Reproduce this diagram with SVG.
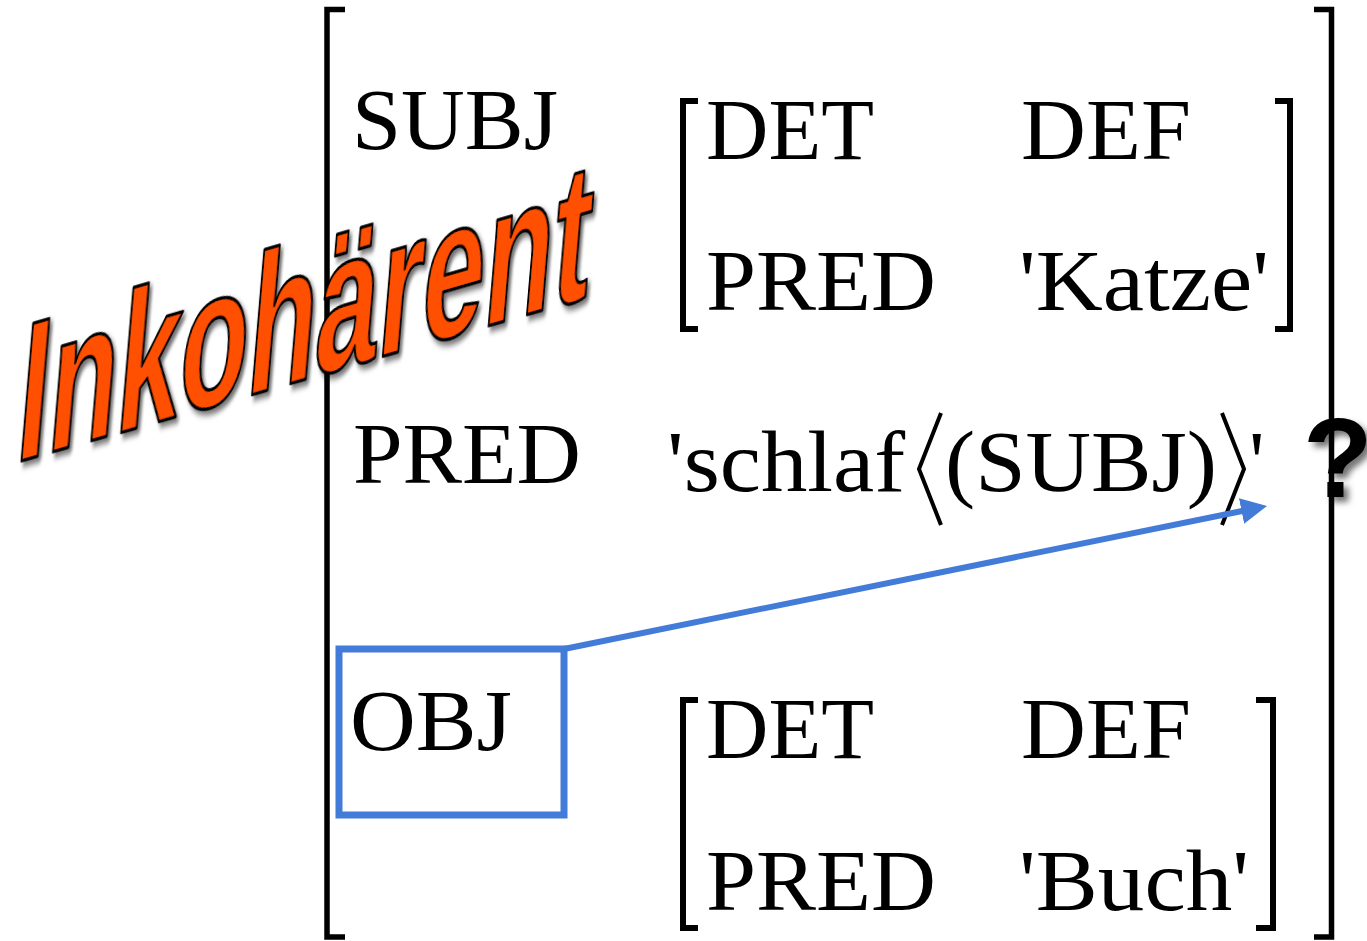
<svg xmlns="http://www.w3.org/2000/svg" width="1367" height="941" viewBox="0 0 1367 941">
<style>
.t{font-family:"Liberation Serif","Times New Roman",serif;font-size:86px;fill:#000}
.br{fill:none;stroke:#000;stroke-width:5.5;stroke-linecap:butt;stroke-linejoin:miter}
.bri{fill:none;stroke:#000;stroke-width:6;stroke-linejoin:miter}
.conn{fill:none;stroke:#437bd8;stroke-width:6}
.box{fill:none;stroke:#437bd8;stroke-width:7}
</style>
<defs>
<marker id="ah" markerUnits="userSpaceOnUse" markerWidth="26" markerHeight="26" viewBox="0 0 26 26" refX="3" refY="13" orient="auto">
<path d="M0,0 L26,13 L0,26 z" fill="#437bd8"/>
</marker>
<filter id="sh" x="-10%" y="-10%" width="130%" height="130%">
<feDropShadow dx="5" dy="5" stdDeviation="3" flood-color="#000" flood-opacity="0.55"/>
</filter>
</defs>
<rect width="1367" height="941" fill="#fff"/>
<g id="outer-fs">
<path class="br" d="M345,9.5 H327 V937 H345"/>
<path class="br" d="M1314,9.5 H1331.5 V937 H1314"/>
</g>
<g id="subj">
<text class="t" x="352" y="149" textLength="206" lengthAdjust="spacingAndGlyphs">SUBJ</text>
<path class="bri" d="M698,101 H683 V329 H698"/>
<path class="bri" d="M1275,101 H1290 V329 H1275"/>
<text class="t" x="706" y="159" textLength="168" lengthAdjust="spacingAndGlyphs">DET</text>
<text class="t" x="1021" y="159" textLength="170" lengthAdjust="spacingAndGlyphs">DEF</text>
<text class="t" x="706" y="310" textLength="230" lengthAdjust="spacingAndGlyphs">PRED</text>
<text class="t" x="1019" y="310" textLength="250" lengthAdjust="spacingAndGlyphs">'Katze'</text>
</g>
<g id="pred">
<text class="t" x="353" y="483" textLength="228" lengthAdjust="spacingAndGlyphs">PRED</text>
<text class="t" x="667" y="491" textLength="238" lengthAdjust="spacingAndGlyphs">'schlaf</text>
<polyline class="bri" style="stroke-width:4" points="941,413 919,469 941,525"/>
<text class="t" x="945" y="491" textLength="272" lengthAdjust="spacingAndGlyphs">(SUBJ)</text>
<polyline class="bri" style="stroke-width:4" points="1222,413 1244,469 1222,525"/>
<text class="t" x="1249" y="491">'</text>
</g>
<g id="obj">
<rect class="box" x="339" y="649" width="225" height="166"/>
<text class="t" x="350" y="750" textLength="162" lengthAdjust="spacingAndGlyphs">OBJ</text>
<path class="bri" d="M698,700 H683 V928 H698"/>
<path class="bri" d="M1256,700 H1273 V928 H1256"/>
<text class="t" x="706" y="758" textLength="168" lengthAdjust="spacingAndGlyphs">DET</text>
<text class="t" x="1021" y="758" textLength="170" lengthAdjust="spacingAndGlyphs">DEF</text>
<text class="t" x="706" y="910" textLength="230" lengthAdjust="spacingAndGlyphs">PRED</text>
<text class="t" x="1019" y="910" textLength="230" lengthAdjust="spacingAndGlyphs">'Buch'</text>
</g>
<g id="connectors">
<line class="conn" x1="564" y1="649" x2="1244.5" y2="510.5" marker-end="url(#ah)"/>
</g>
<g id="question">
<text x="1303" y="497" filter="url(#sh)" style="font-family:'Liberation Sans',Arial,sans-serif;font-weight:bold;font-size:114px;fill:#000">?</text>
</g>
<g id="inkohaerent">
<text transform="matrix(0.56,-0.162,-0.085,1,14,463)" filter="url(#sh)" style="font-family:'Liberation Sans',Arial,sans-serif;font-weight:bold;font-size:200px;fill:#ff5000;stroke:#000;stroke-width:3.5;stroke-linejoin:round">Inkohärent</text>
</g>
</svg>
